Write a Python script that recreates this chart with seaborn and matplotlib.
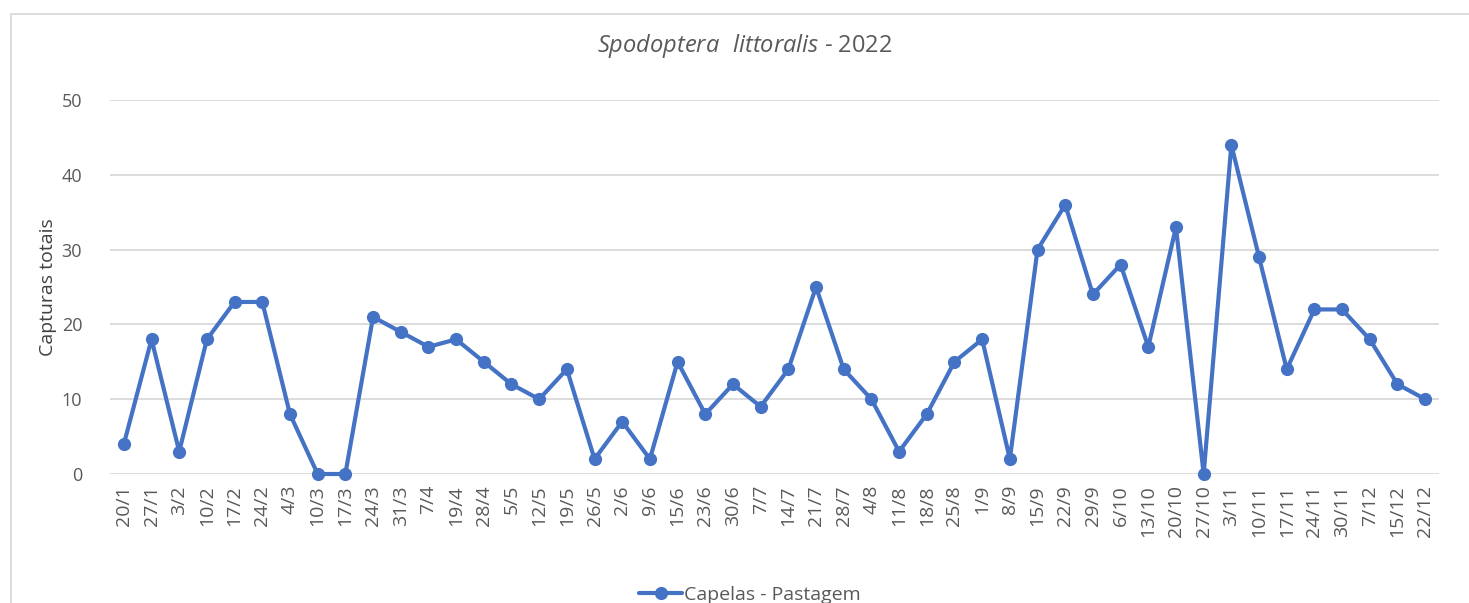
import numpy as np
import pandas as pd
import seaborn as sns
from matplotlib import pyplot as plt
from matplotlib.patches import Rectangle

# Capturas semanais - Capelas (Pastagem), 2022
datas = ['20/1', '27/1', '3/2', '10/2', '17/2', '24/2', '4/3', '10/3', '17/3',
         '24/3', '31/3', '7/4', '19/4', '28/4', '5/5', '12/5', '19/5', '26/5',
         '2/6', '9/6', '15/6', '23/6', '30/6', '7/7', '14/7', '21/7', '28/7',
         '4/8', '11/8', '18/8', '25/8', '1/9', '8/9', '15/9', '22/9', '29/9',
         '6/10', '13/10', '20/10', '27/10', '3/11', '10/11', '17/11', '24/11',
         '30/11', '7/12', '15/12', '22/12']
capturas = [4, 18, 3, 18, 23, 23, 8, 0, 0, 21, 19, 17, 18, 15, 12, 10, 14, 2,
            7, 2, 15, 8, 12, 9, 14, 25, 14, 10, 3, 8, 15, 18, 2, 30, 36, 24,
            28, 17, 33, 0, 44, 29, 14, 22, 22, 18, 12, 10]
serie = 'Capelas - Pastagem'
y_ticks = [0, 10, 20, 30, 40, 50]

df = pd.DataFrame({'data': datas, 'capturas': capturas})

sns.set_style('white')
plt.rcParams['font.family'] = ['Open Sans', 'DejaVu Sans']
plt.rcParams['mathtext.fontset'] = 'custom'
plt.rcParams['mathtext.it'] = 'Open Sans:italic'
plt.rcParams['mathtext.rm'] = 'Open Sans'

cinza = '#595959'
azul = '#4472C4'

fig = plt.figure(figsize=(14.69, 6.03), dpi=100)
ax = fig.add_axes([110 / 1469, 1 - 474 / 603, (1439 - 110) / 1469, (474 - 100) / 603])

# moldura da área do gráfico (cortada à direita e em baixo)
fig.patches.append(Rectangle((11 / 1469, -0.2), 1.2, 1.2 - 14 / 603,
                             transform=fig.transFigure, fill=False,
                             edgecolor='#D9D9D9', linewidth=1.3))

sns.lineplot(data=df, x='data', y='capturas', sort=False, marker='o',
             color=azul, linewidth=3, markersize=9.5, markeredgewidth=0,
             label=serie, ax=ax, zorder=3, clip_on=False)

ax.set_xlim(-0.5, len(datas) - 0.5)
ax.set_ylim(0, 50)
ax.set_yticks(y_ticks)
ax.yaxis.grid(True, color='#D9D9D9', linewidth=1.3)
ax.set_axisbelow(True)
for s in ax.spines.values():
    s.set_visible(False)
ax.tick_params(axis='both', length=0, colors=cinza)
ax.tick_params(axis='x', rotation=90, pad=8, labelsize=14)
ax.tick_params(axis='y', pad=20, labelsize=13)
ax.set_xlabel('')
ax.set_ylabel('Capturas totais', fontsize=14, color='#404040')
ax.yaxis.set_label_coords((57 - 110) / 1329, 0.5)

fig.text(745 / 1469, 1 - 46 / 603, r'$\it{Spodoptera\ \ littoralis}$ - 2022',
         ha='center', va='center', fontsize=17, color=cinza)

ax.get_legend().remove()
fig.legend(*ax.get_legend_handles_labels(), loc='center',
           bbox_to_anchor=(750 / 1469, 8 / 603), frameon=False, fontsize=14,
           labelcolor=cinza, handlelength=2.2, handletextpad=0.1)

fig.savefig('out.png', dpi=100, facecolor='white')
